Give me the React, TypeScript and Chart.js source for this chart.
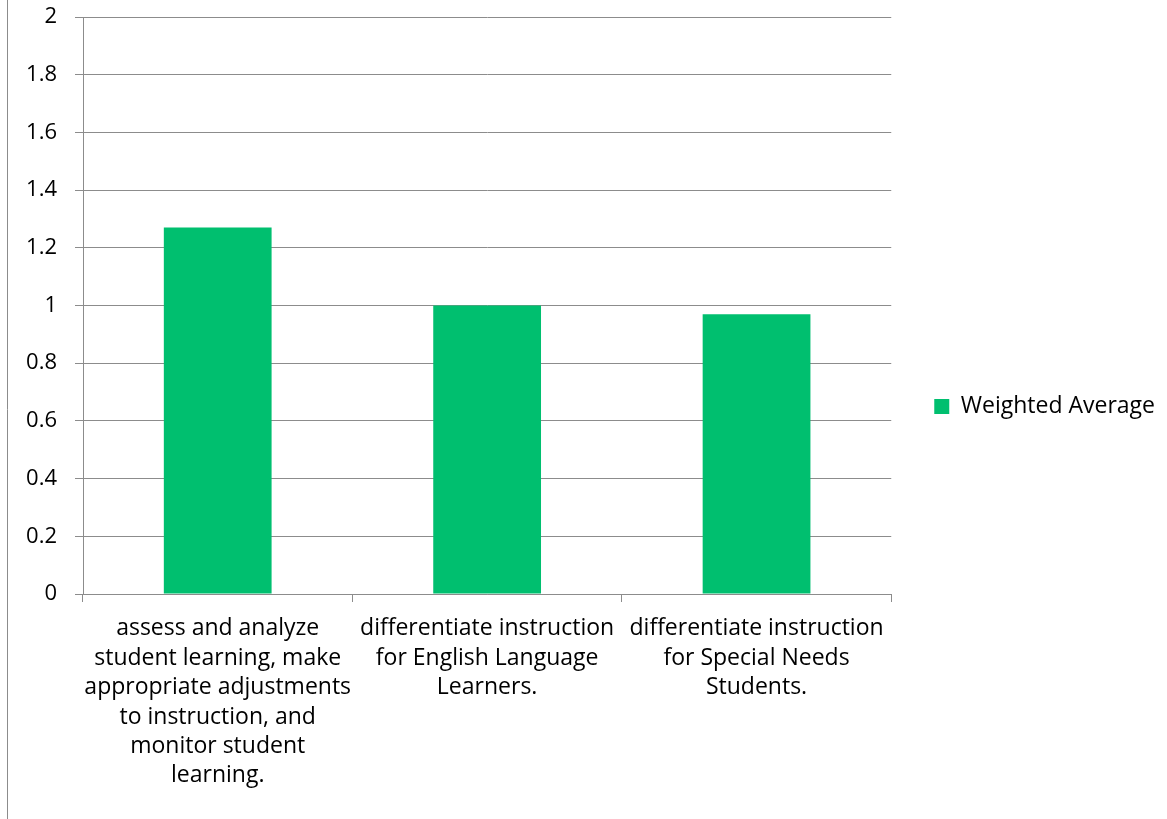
import React, { useEffect, useRef } from "react";
import { Chart, registerables } from "chart.js";

Chart.register(...registerables);

// Survey categories (each label split into lines as laid out under the axis)
const categories: string[][] = [
  [
    "assess and analyze",
    "student learning, make",
    "appropriate adjustments",
    "to instruction, and",
    "monitor student",
    "learning.",
  ],
  ["differentiate instruction", "for English Language", "Learners."],
  ["differentiate instruction", "for Special Needs", "Students."],
];

const seriesName = "Weighted Average";
const weightedAverage: number[] = [1.27, 1.0, 0.97];

const yMin = 0;
const yMax = 2;
const yStep = 0.2;
const yTickLabels: string[] = ["0", "0.2", "0.4", "0.6", "0.8", "1", "1.2", "1.4", "1.6", "1.8", "2"];

const BAR_COLOR = "#00BF6F";
const GRID_COLOR = "#8C8C8C";
const TEXT_COLOR = "#000000";
const FONT_FAMILY = "'Open Sans', 'Noto Sans', sans-serif";

// Space reserved under the x-axis labels (keeps the legend centred on the figure)
const BOTTOM_PAD = 23;

// Thin frame line along the left edge of the canvas
const leftFrame = {
  id: "leftFrame",
  afterDraw(chart: Chart) {
    const { ctx, height } = chart;
    ctx.save();
    ctx.strokeStyle = GRID_COLOR;
    ctx.lineWidth = 1;
    ctx.beginPath();
    ctx.moveTo(7.5, 0);
    ctx.lineTo(7.5, height);
    ctx.stroke();
    ctx.restore();
  },
};

export default function App() {
  const canvasRef = useRef<HTMLCanvasElement | null>(null);

  useEffect(() => {
    document.body.style.margin = "0";
    const canvas = canvasRef.current;
    if (!canvas) return;

    const chart = new Chart(canvas, {
      type: "bar",
      data: {
        labels: categories,
        datasets: [
          {
            label: seriesName,
            data: weightedAverage,
            backgroundColor: BAR_COLOR,
            borderWidth: 0,
            categoryPercentage: 1,
            barPercentage: 0.4,
          },
        ],
      },
      options: {
        animation: false,
        responsive: false,
        layout: { padding: { top: 17, left: 0, right: 2, bottom: BOTTOM_PAD } },
        font: { family: FONT_FAMILY, size: 22 },
        plugins: {
          tooltip: { enabled: false },
          legend: {
            position: "right",
            labels: {
              color: TEXT_COLOR,
              font: { family: FONT_FAMILY, size: 23 },
              boxWidth: 15,
              boxHeight: 15,
              padding: 43,
            },
          },
        },
        scales: {
          x: {
            grid: {
              display: true,
              drawOnChartArea: false,
              drawTicks: true,
              tickLength: 8,
              color: GRID_COLOR,
              offset: true,
            },
            border: { display: true, color: GRID_COLOR, width: 1 },
            ticks: {
              color: TEXT_COLOR,
              font: { family: FONT_FAMILY, size: 23, lineHeight: 1.28 },
              maxRotation: 0,
              autoSkip: false,
              padding: 12,
            },
            afterFit(scale: any) {
              scale.height = 225 - BOTTOM_PAD;
            },
          },
          y: {
            min: yMin,
            max: yMax,
            grid: {
              color: GRID_COLOR,
              lineWidth: 1,
              tickLength: 8,
            },
            border: { display: true, color: GRID_COLOR, width: 1 },
            ticks: {
              stepSize: yStep,
              color: TEXT_COLOR,
              font: { family: FONT_FAMILY, size: 22 },
              padding: 18,
              callback: (_v: any, i: number) => yTickLabels[i],
            },
            afterFit(scale: any) {
              scale.width = 83;
              scale.paddingTop = 0;
              scale.paddingBottom = 0;
            },
          },
        },
      },
      plugins: [leftFrame],
    });

    return () => chart.destroy();
  }, []);

  return <canvas ref={canvasRef} width={1167} height={819} style={{ display: "block" }} />;
}
